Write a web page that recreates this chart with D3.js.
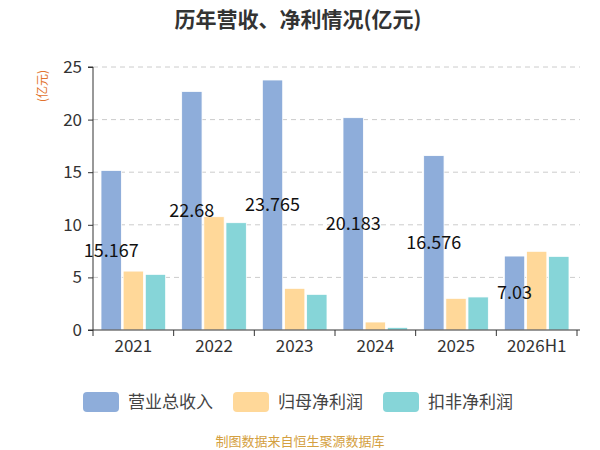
<!DOCTYPE html>
<html>
<head>
<meta charset="utf-8">
<title>历年营收、净利情况</title>
<style>
  body { margin: 0; background: #fff; }
  text { font-family: "Noto Sans CJK SC", "Noto Sans", sans-serif; }
  .grid line { stroke: #ccc; stroke-dasharray: 5,4; }
</style>
</head>
<body>
<svg class="chart"></svg>
<script src="https://d3js.org/d3.v7.min.js"></script>
<script>
var years = ["2021", "2022", "2023", "2024", "2025", "2026H1"];
var seriesNames = ["营业总收入", "归母净利润", "扣非净利润"];
var revenue = [15.167, 22.68, 23.765, 20.183, 16.576, 7.03];
var netProfit = [5.6, 10.77, 3.96, 0.76, 3.01, 7.48];
var deductedProfit = [5.29, 10.2, 3.39, 0.25, 3.14, 7.0];
var yTicks = [0, 5, 10, 15, 20, 25];
var colors = ["#8eadda", "#ffd899", "#86d5d8"];

var series = [revenue, netProfit, deductedProfit];
var width = 600, height = 450;
var margin = {top: 67, right: 20, bottom: 120, left: 93};

var svg = d3.select(".chart").attr("width", width).attr("height", height);

var x = d3.scaleBand().domain(years).range([margin.left, 577]);
var y = d3.scaleLinear().domain([0, 25]).range([330, 67]);
var inner = d3.scaleBand().domain(d3.range(3)).range([8, x.bandwidth() - 8]).paddingInner(0.08);

// title
svg.append("text")
  .attr("x", 298).attr("y", 27)
  .attr("text-anchor", "middle")
  .attr("font-size", 21).attr("font-weight", "bold").attr("fill", "#333")
  .text("历年营收、净利情况(亿元)");

// y unit label
svg.append("text")
  .attr("transform", "translate(47,86) rotate(-90)")
  .attr("text-anchor", "middle")
  .attr("font-size", 12).attr("fill", "#e2732e")
  .text("(亿元)");

// gridlines
svg.append("g").attr("class", "grid")
  .selectAll("line").data(yTicks.slice(1)).enter()
  .append("line")
  .attr("x1", margin.left).attr("x2", 580)
  .attr("y1", function(d) { return y(d); })
  .attr("y2", function(d) { return y(d); });

// bars
var groups = svg.append("g").selectAll("g").data(years).enter()
  .append("g")
  .attr("transform", function(d) { return "translate(" + x(d) + ",0)"; });

groups.selectAll("rect")
  .data(function(d, i) { return series.map(function(s, k) { return {k: k, v: s[i]}; }); })
  .enter().append("rect")
  .attr("x", function(d) { return inner(d.k); })
  .attr("width", inner.bandwidth())
  .attr("y", function(d) { return y(d.v); })
  .attr("height", function(d) { return y(0) - y(d.v); })
  .attr("fill", function(d) { return colors[d.k]; })
  .attr("stroke", "#fff").attr("stroke-width", 0.8);

// value labels (revenue only)
groups.append("text")
  .attr("x", inner(0) + inner.bandwidth() / 2)
  .attr("y", function(d, i) { return y(revenue[i] / 2); })
  .attr("dy", "0.35em")
  .attr("text-anchor", "middle")
  .attr("font-size", 18).attr("fill", "#111")
  .text(function(d, i) { return revenue[i]; });

// y axis
var yAxis = svg.append("g")
  .attr("transform", "translate(" + margin.left + ",0)")
  .call(d3.axisLeft(y).tickValues(yTicks).tickSize(5).tickPadding(6));
yAxis.selectAll("text").attr("font-size", 17).attr("fill", "#333");
yAxis.selectAll("line, path").attr("stroke", "#333");
yAxis.select("path").attr("d", "M-5,67H0V330H-5");

// x axis
var xAxis = svg.append("g")
  .attr("transform", "translate(0,330)")
  .call(d3.axisBottom(x).tickSize(0).tickPadding(10));
xAxis.selectAll("text").attr("font-size", 17).attr("fill", "#333");
xAxis.select("path").attr("stroke", "#333").attr("d", "M" + margin.left + ",0H580");
xAxis.selectAll(".sep").data(d3.range(years.length + 1)).enter()
  .append("line").attr("class", "sep")
  .attr("x1", function(i) { return margin.left + i * x.step(); })
  .attr("x2", function(i) { return margin.left + i * x.step(); })
  .attr("y1", 0).attr("y2", 6)
  .attr("stroke", "#333");

// legend
var legendX = [83, 233, 383];
var legend = svg.append("g").selectAll("g").data(seriesNames).enter()
  .append("g")
  .attr("transform", function(d, i) { return "translate(" + legendX[i] + ",392)"; });
legend.append("rect")
  .attr("width", 36).attr("height", 20).attr("rx", 4)
  .attr("fill", function(d, i) { return colors[i]; });
legend.append("text")
  .attr("x", 45).attr("y", 10).attr("dy", "0.35em")
  .attr("font-size", 17).attr("fill", "#444")
  .text(function(d) { return d; });

// source note
svg.append("text")
  .attr("x", 300).attr("y", 446)
  .attr("text-anchor", "middle")
  .attr("font-size", 13).attr("fill", "#d4a040")
  .text("制图数据来自恒生聚源数据库");
</script>
</body>
</html>
